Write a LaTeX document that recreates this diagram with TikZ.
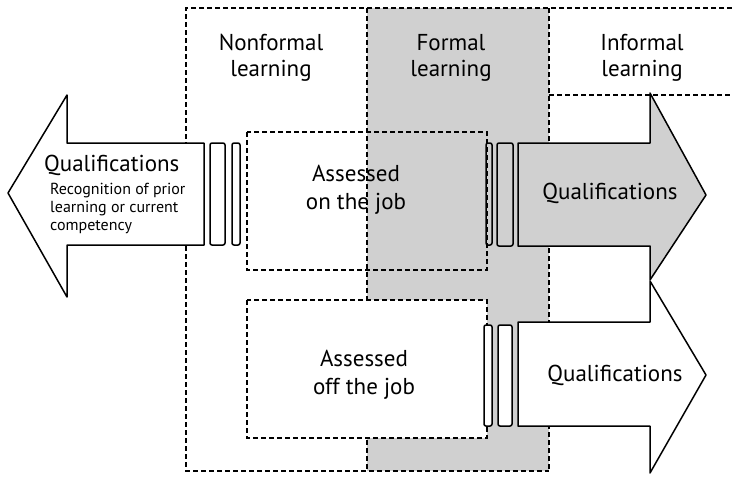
\documentclass[tikz,border=0pt]{standalone}
\usepackage{fontspec}
\setmainfont{PT Sans}
\definecolor{colgray}{RGB}{208,208,208}
\begin{document}
\begin{tikzpicture}[x=1pt,y=-1pt,
  dsh/.style={dash pattern=on 5pt off 3pt, line width=2.2pt},
  ol/.style={line width=1.5pt, line join=round},
  barbox/.style={ol, rounded corners=2pt},
  lbl/.style={font=\fontsize{23}{26}\selectfont, align=center, inner sep=0pt},
  small/.style={font=\fontsize{16}{18}\selectfont, align=left, inner sep=0pt}]
\useasboundingbox (0,0) rectangle (732,477);
% formal column
\fill[colgray] (367,8) rectangle (549,471);
% region borders
\draw[dsh] (732,8) -- (186,8) -- (186,471) -- (549,471);
\draw[dsh] (367,8) -- (367,471);
\draw[dsh] (549,8) -- (549,471);
\draw[dsh] (549,95) -- (732,95);
% assessed boxes
\draw[dsh] (247,132) rectangle (487,270);
\draw[dsh, fill=white] (247,300) rectangle (487,438);
% left arrow
\draw[ol, fill=white] (204,143) -- (67,143) -- (67,95) -- (8,193) -- (67,297) -- (67,245) -- (204,245) -- cycle;
% bars
\draw[barbox, fill=white] (210,143) rectangle (225,245);
\draw[barbox, fill=white] (232,143) rectangle (240,245);
\draw[barbox] (486,143) rectangle (492,245);
\draw[barbox] (497,143) rectangle (513,246);
\draw[barbox, fill=white] (484,325) rectangle (492,426);
\draw[barbox, fill=white] (498,325) rectangle (512,426);
% right arrows
\draw[ol, fill=colgray] (518,143) -- (650,143) -- (650,93) -- (706,195) -- (650,280) -- (650,246) -- (518,246) -- cycle;
\draw[ol, fill=white] (518,322) -- (650,322) -- (650,281) -- (706,375) -- (650,473) -- (650,426) -- (518,426) -- cycle;
% labels
\node[lbl] (nonformal) at (271,58) {Nonformal\\learning};
\node[lbl] (formal) at (451,58) {Formal\\learning};
\node[lbl] (informal) at (642,58) {Informal\\learning};
\node[lbl, font=\fontsize{23}{28}\selectfont] (onjob) at (356,190) {Assessed\\on the job};
\node[lbl, font=\fontsize{23}{28}\selectfont] (offjob) at (364,375) {Assessed\\off the job};
\node[lbl, anchor=west] (qleft) at (44,165) {Qualifications};
\node[small, anchor=north west] (rpl) at (50,183) {Recognition of prior\\learning or current\\competency};
\node[lbl] (qright) at (610,193) {Qualifications};
\node[lbl] (qlow) at (615,375) {Qualifications};
\end{tikzpicture}
\end{document}
